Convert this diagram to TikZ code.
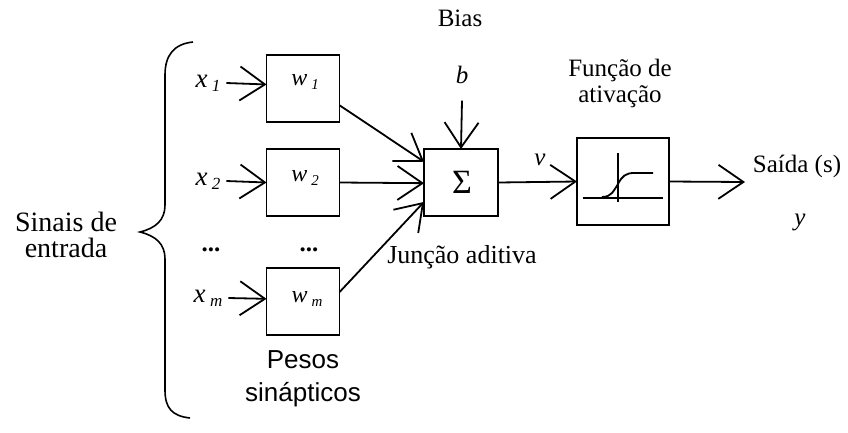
\documentclass[tikz,border=0pt]{standalone}
\usepackage{fontspec}
\setmainfont{Liberation Serif}
\newfontfamily\sansf{Liberation Sans}
\usetikzlibrary{arrows.meta,calc}
\newcommand{\xsub}[2]{\textit{#1}\,\raisebox{-0.3ex}{\fontsize{17}{17}\selectfont\textit{#2}}}
\newcommand{\wsub}[2]{\textit{#1}\,\raisebox{-0.3ex}{\fontsize{15}{15}\selectfont\textit{#2}}}
\begin{document}
\begin{tikzpicture}[x=1pt,y=-1pt,line width=1.8pt,
  arr/.style={-{Straight Barb[length=25pt,width=34pt]}},
  wbox/.style={draw,minimum width=73pt,minimum height=67pt,inner sep=0pt,outer sep=0pt},
  lab/.style={inner sep=0pt,font=\fontsize{25}{28}\selectfont},
  xlab/.style={inner sep=0pt,font=\fontsize{27}{30}\selectfont},
  wlab/.style={inner sep=0pt,font=\fontsize{24}{26}\selectfont},
  slab/.style={inner sep=0pt,font=\sansf\fontsize{26}{30}\selectfont}]
\useasboundingbox (0,0) rectangle (848,432);
% brace
\draw[line width=1.6pt] (193,42) .. controls (174,44) and (165,55) .. (165,75) -- (165,205)
  .. controls (165,220) and (156,228) .. (140,232)
  .. controls (156,236) and (165,244) .. (165,259) -- (165,390)
  .. controls (165,408) and (172,416) .. (190,418);
\node[lab,font=\fontsize{28}{30}\selectfont] (sin1) at (66,222) {Sinais de};
\node[lab,font=\fontsize{28}{30}\selectfont] (sin2) at (66,248) {entrada};
% weight boxes
\node[wbox] (w1) at (303,88.5) {};
\node[wbox] (w2) at (303,182.5) {};
\node[wbox] (wm) at (303,301.5) {};
\node[wlab] (tw1) at (305,82) {\wsub{w}{1}};
\node[wlab] (tw2) at (305,178) {\wsub{w}{2}};
\node[wlab] (twm) at (307,299) {\wsub{w}{m}};
% inputs
\node[xlab] (x1) at (208,83) {\xsub{x}{1}};
\node[xlab] (x2) at (208,181) {\xsub{x}{2}};
\node[xlab] (xm) at (208,298) {\xsub{x}{m}};
\node[lab] (d1) at (211,250) {\textbf{...}};
\node[lab] (d2) at (309,250) {\textbf{...}};
\draw[arr] ([xshift=5pt]x1.east) -- ($(w1.north west)!0.44!(w1.south west)$);
\draw[arr] ([xshift=5pt]x2.east) -- (w2.west);
\draw[arr] ([xshift=5pt]xm.east) -- ($(wm.north west)!0.46!(wm.south west)$);
% sum
\node[draw,minimum width=74pt,minimum height=67pt,inner sep=0pt,outer sep=0pt] (s) at (461,182.5) {};
\node[inner sep=0pt,font=\fontsize{34}{38}\selectfont] (sig) at (462,182) {Σ};
\draw[arr] ($(w1.north east)!0.75!(w1.south east)$) -- ($(s.north west)!0.19!(s.south west)$);
\draw[arr] (w2.east) -- ($(s.north west)!0.51!(s.south west)$);
\draw[arr] ($(wm.north east)!0.36!(wm.south east)$) -- ($(s.north west)!0.79!(s.south west)$);
\node[lab] (bias) at (460,18) {Bias};
\node[lab] (b) at (462,75) {\textit{b}};
\draw[arr] ([yshift=-16pt]b.south) -- (s.north);
\node[lab,font=\fontsize{26}{30}\selectfont] (ja) at (462,257) {Junção aditiva};
\node[slab] (p1) at (303,360) {Pesos};
\node[slab] (p2) at (303,395) {sinápticos};
% activation
\node[draw,minimum width=92pt,minimum height=87pt,inner sep=0pt,outer sep=0pt] (f) at (623,181.5) {};
\draw[arr] (s.east) -- (f.west);
\node[lab] (v) at (540,160) {\textit{v}};
\draw (583,198) -- (663,198);
\draw (618,153) -- (618,202);
\draw (602,197) .. controls (612,197) and (614,190) .. (618,184)
  .. controls (622,176) and (626,173) .. (634,173) -- (653,173);
\node[lab] (fn1) at (620,70) {Função de};
\node[lab] (fn2) at (620,97) {ativação};
\coordinate (out) at (745,182);
\draw[arr] (f.east) -- (out);
\node[lab] (said) at (797,166) {Saída (s)};
\node[lab] (y) at (800,222) {\textit{y}};
\end{tikzpicture}
\end{document}
